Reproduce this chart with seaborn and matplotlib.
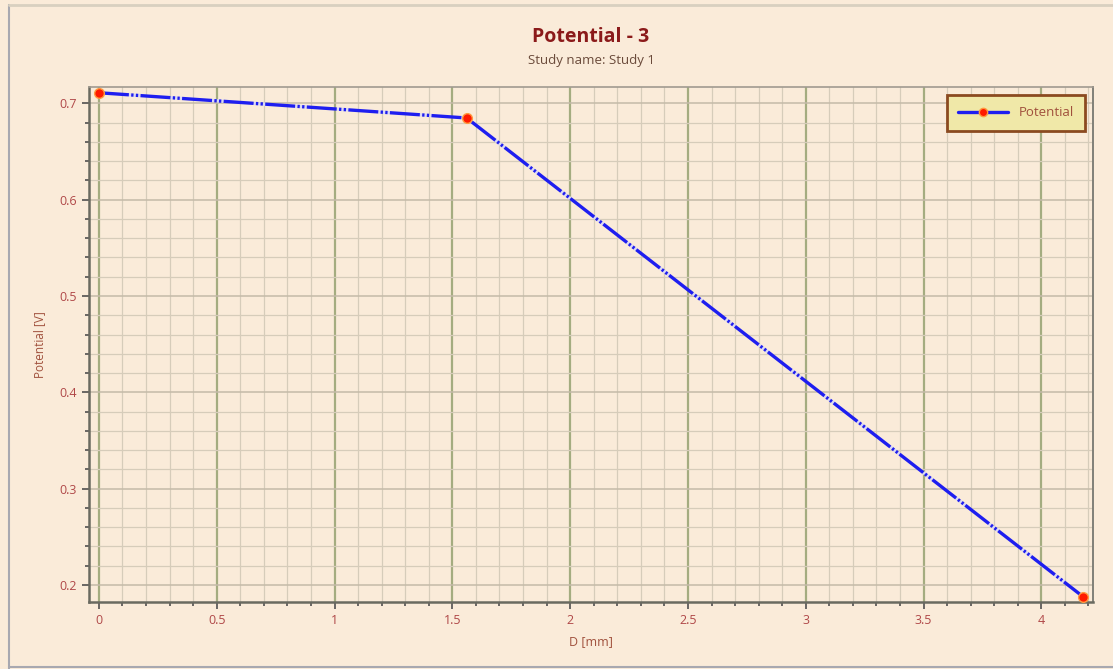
import matplotlib
matplotlib.use("Agg")
import matplotlib.pyplot as plt
import seaborn as sns
import pandas as pd
from matplotlib.ticker import MultipleLocator
from matplotlib.lines import Line2D

# Data
distance_mm = [0.0, 1.561, 4.177]
potential_v = [0.711, 0.6848, 0.1879]
series_name = "Potential"

sns.set_theme(style="white")
plt.rcParams['font.family'] = ['Open Sans', 'DejaVu Sans']

bg = "#FAEBD9"
tick_col = "#B04848"
label_col = "#A0503C"

fig = plt.figure(figsize=(11.13, 6.69), dpi=100, facecolor=bg)
ax = fig.add_axes([0.080, 0.1006, 0.902, 0.7694])
ax.set_facecolor(bg)

df = pd.DataFrame({"D": distance_mm, "P": potential_v})
sns.lineplot(data=df, x="D", y="P", ax=ax, color="#1E1EF0", linewidth=2.4,
             marker="o", markersize=7, markerfacecolor="#FF1A00",
             markeredgecolor="#FF9A40", markeredgewidth=1.0, zorder=5)
ln = ax.lines[0]
ln.set_dashes([9, 0.7, 0.7, 0.7, 0.7, 0.7])
ln.set_gapcolor("#D8D8F8")

ax.set_xlim(-0.042, 4.219)
ax.set_ylim(0.1827, 0.717)
ax.xaxis.set_major_locator(MultipleLocator(0.5))
ax.xaxis.set_minor_locator(MultipleLocator(0.1))
ax.yaxis.set_major_locator(MultipleLocator(0.1))
ax.yaxis.set_minor_locator(MultipleLocator(0.02))
ax.set_xticks([0, 0.5, 1, 1.5, 2, 2.5, 3, 3.5, 4])
ax.set_xticklabels(["0", "0.5", "1", "1.5", "2", "2.5", "3", "3.5", "4"])
ax.set_yticks([0.2, 0.3, 0.4, 0.5, 0.6, 0.7])
ax.set_yticklabels(["0.2", "0.3", "0.4", "0.5", "0.6", "0.7"])

ax.grid(which="minor", color="#D6CCBA", linewidth=0.9)
ax.grid(which="major", axis="x", color="#A4AC80", linewidth=1.6)
ax.grid(which="major", axis="y", color="#C4BAA8", linewidth=1.1)
ax.set_axisbelow(True)

ax.tick_params(which="major", direction="out", length=5, width=1.2, color="#505050",
               labelcolor=tick_col, labelsize=9, bottom=True, left=True)
ax.tick_params(which="minor", direction="out", length=3, width=1.2, color="#505050",
               bottom=True, left=True)
for side in ["left", "bottom", "top", "right"]:
    ax.spines[side].set_visible(True)
    ax.spines[side].set_color("#6A6A60")
ax.spines["left"].set_linewidth(1.8)
ax.spines["bottom"].set_linewidth(1.8)
ax.spines["top"].set_linewidth(1.2)
ax.spines["right"].set_linewidth(1.4)
ax.spines["top"].set_color("#A09A90")
ax.spines["right"].set_color("#808078")

ax.set_xlabel("D [mm]", color=label_col, fontsize=9, labelpad=6)
ax.set_ylabel("Potential [V]", color=label_col, fontsize=8.5, labelpad=10)

fig.text(0.531, 0.945, "Potential - 3", ha="center", va="center",
         fontsize=14, fontweight="bold", color="#8B1A1A")
fig.text(0.531, 0.910, "Study name: Study 1", ha="center", va="center",
         fontsize=9.5, color="#6A4A3A")

handle = Line2D([0], [0], color="#1E1EF0", linewidth=2.4, marker="o", markersize=6,
                markerfacecolor="#FF1A00", markeredgecolor="#FF9A40")
leg = ax.legend([handle], [series_name], loc="upper right", bbox_to_anchor=(0.992, 0.984),
                borderaxespad=0, frameon=True, fancybox=False, fontsize=9.5,
                handlelength=3.8, borderpad=0.85, labelcolor=label_col)
leg.get_frame().set_facecolor("#F0E8A8")
leg.get_frame().set_edgecolor("#8B4A20")
leg.get_frame().set_linewidth(2.0)
leg.get_frame().set_alpha(1)

# Outer window frame lines
fig.add_artist(Line2D([0.008, 0.008], [0.0, 0.993], transform=fig.transFigure,
                      color="#A8A8B0", linewidth=1.5))
fig.add_artist(Line2D([0.008, 1.0], [0.993, 0.993], transform=fig.transFigure,
                      color="#D8D0C0", linewidth=2))
fig.add_artist(Line2D([0.008, 1.0], [0.003, 0.003], transform=fig.transFigure,
                      color="#A8A8B0", linewidth=1.5))

fig.savefig("out.png", dpi=100, facecolor=bg)
